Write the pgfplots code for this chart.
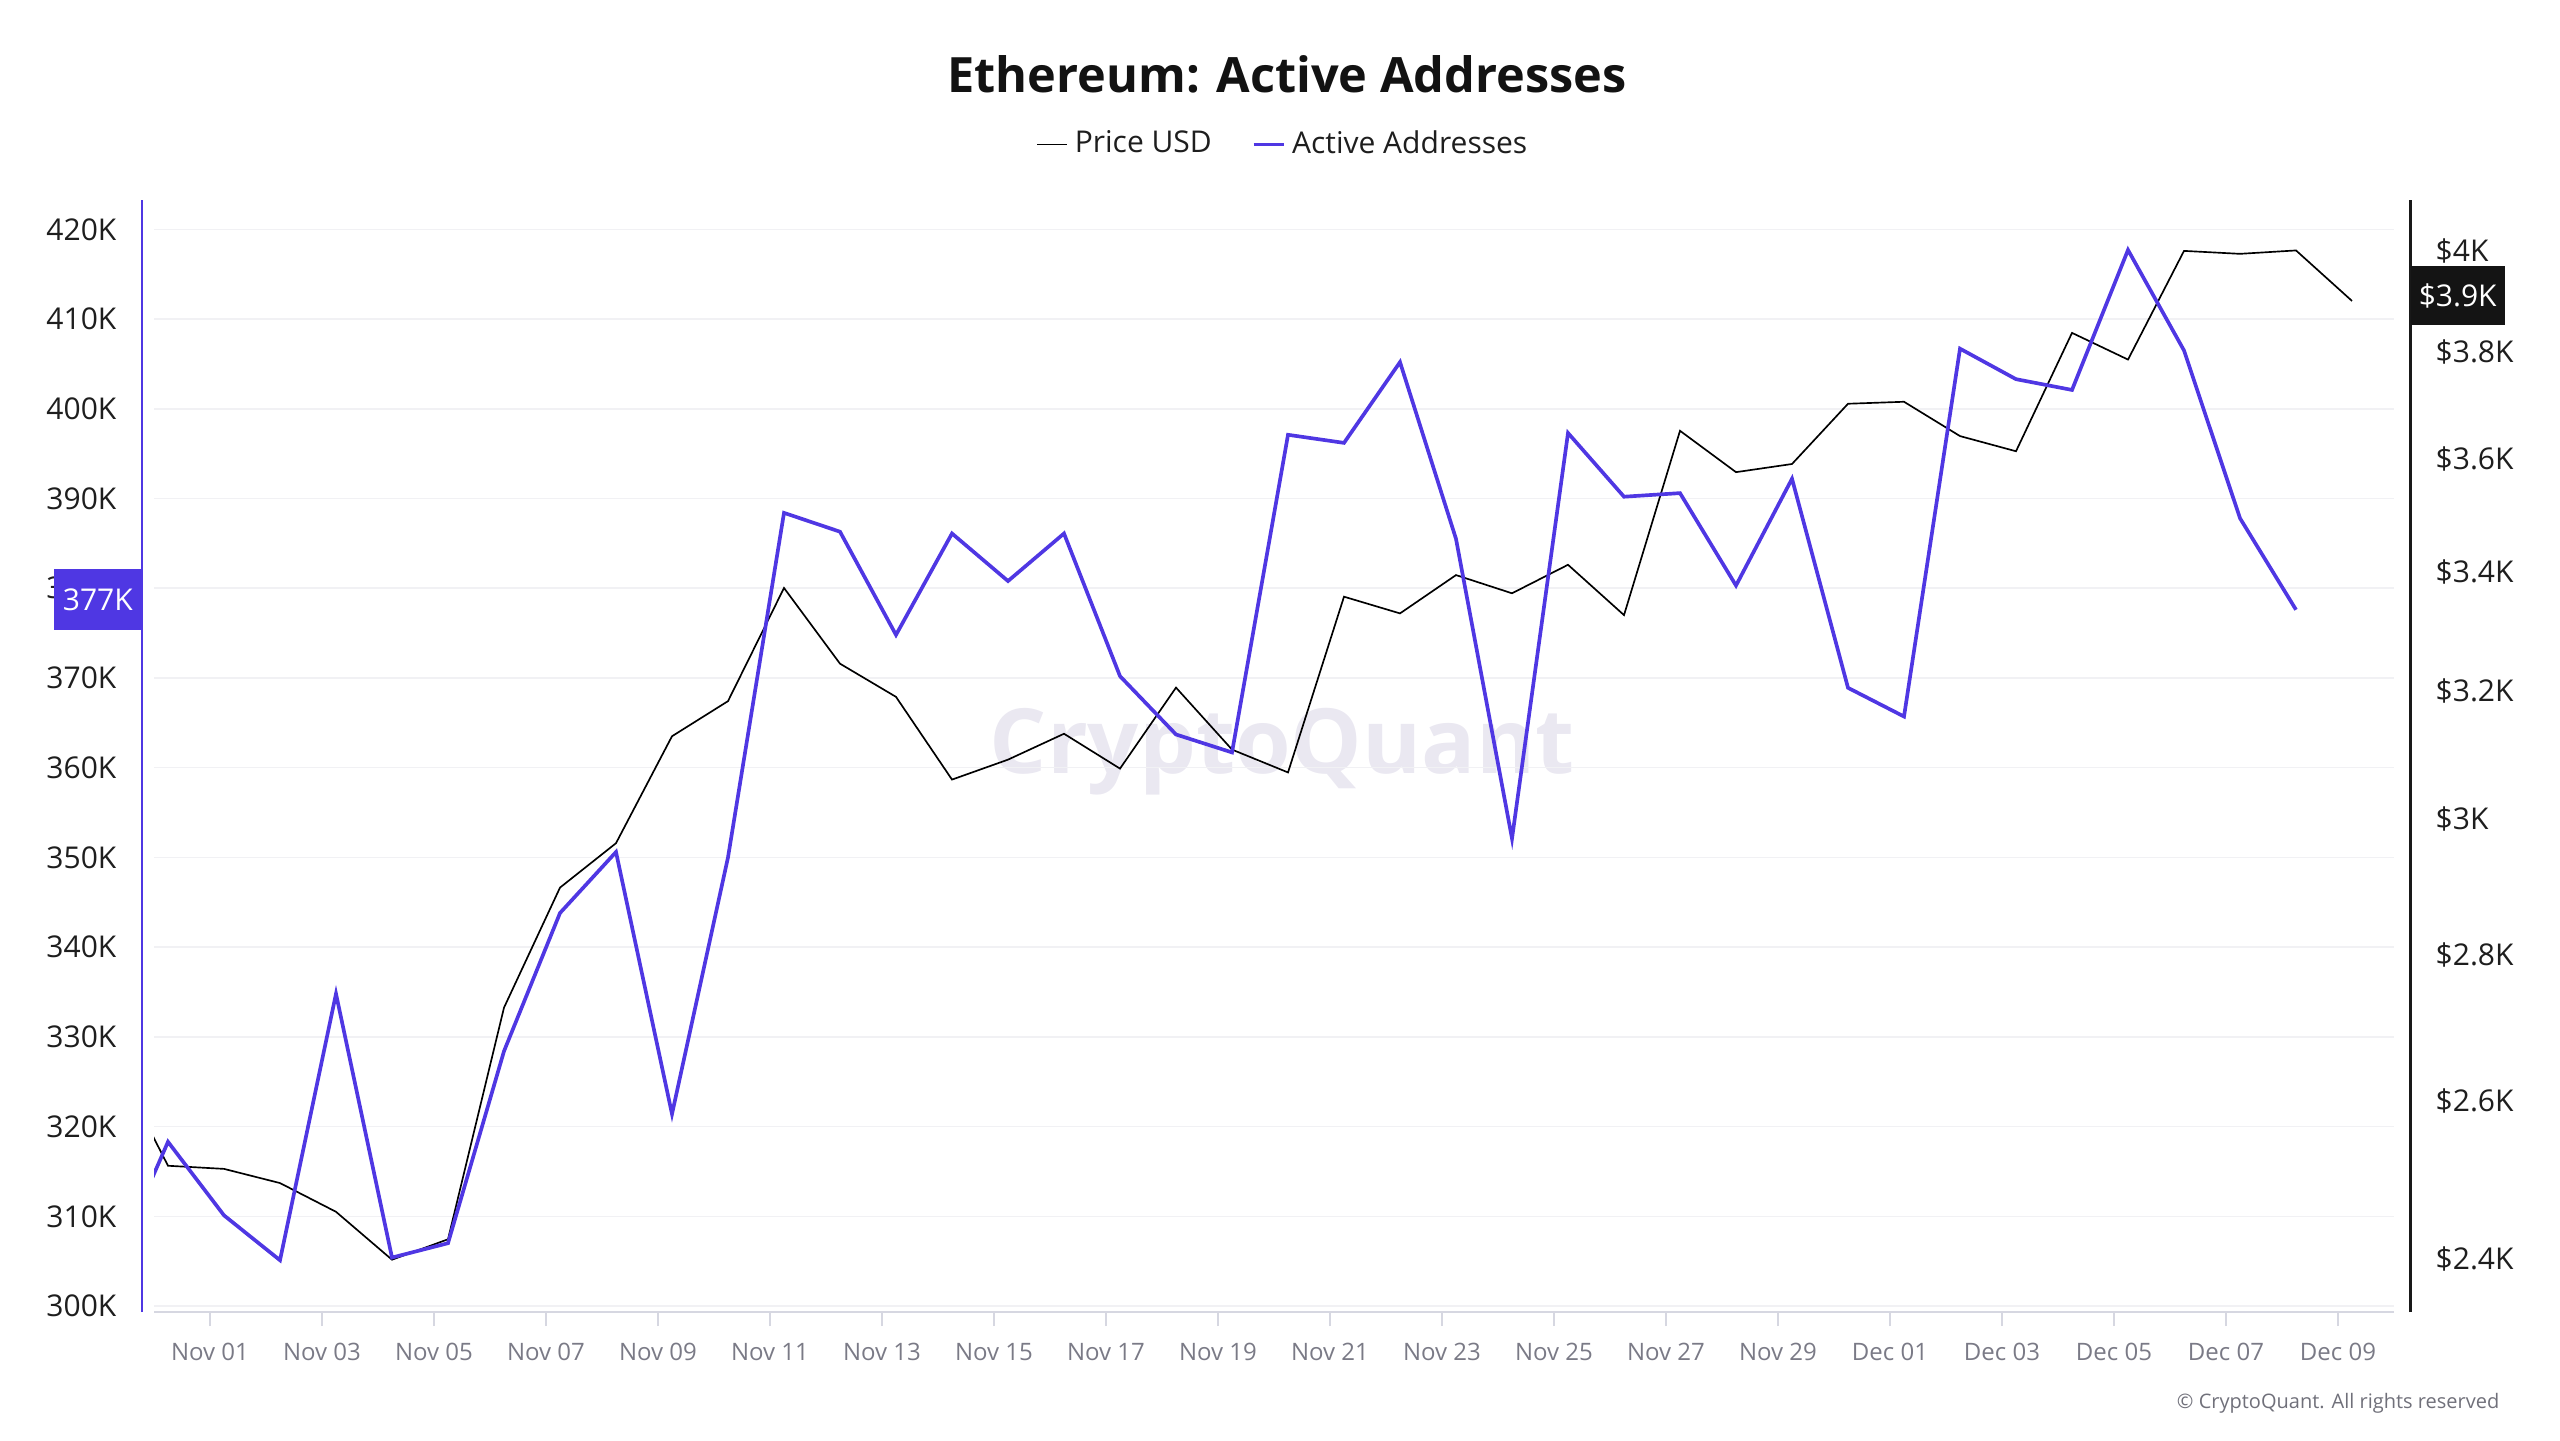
\documentclass[border=0pt]{standalone}
\usepackage{fontspec}
\setmainfont{Open Sans}
\usepackage{pgfplots}
\pgfplotsset{compat=1.18}

\definecolor{aablue}{HTML}{4F37E3}
\definecolor{gridc}{HTML}{F1F1F4}
\definecolor{xaxc}{HTML}{D6D7E1}
\definecolor{xlab}{HTML}{7A7A86}
\definecolor{ylab}{HTML}{1E1E1E}
\definecolor{wmark}{HTML}{EAE8F1}
\definecolor{copyc}{HTML}{70707A}

% 1 px of the 2560x1440 reference = 0.3pt
\pgfplotsset{
  base/.style={
    at={(46.2pt,38.4pt)}, anchor=south west,
    scale only axis, width=672pt, height=333.6pt,
    xmin=0, xmax=40,
    tick align=outside, major tick length=4.2pt,
    /pgf/number format/assume math mode=true,
  },
  ylabs/.style={font=\fontsize{9}{10}\selectfont, text=ylab, inner sep=0pt},
}

\begin{document}
\begin{tikzpicture}
\useasboundingbox (0,0) rectangle (768pt,432pt);

\node[text=wmark, font=\bfseries\fontsize{27}{27}\selectfont] at (384.6pt,206.4pt) {CryptoQuant};

% grid and date axis
\begin{axis}[base,
  ymin=299.33, ymax=423.27,
  ytick={300,310,...,420}, yticklabels={},
  ymajorgrids, grid style={color=gridc, line width=0.45pt},
  axis x line*=bottom, axis y line*=left,
  y axis line style={draw=none}, ytick style={draw=none},
  x axis line style={color=xaxc, line width=0.6pt},
  xtick={1,3,...,39},
  xticklabels={Nov 01,Nov 03,Nov 05,Nov 07,Nov 09,Nov 11,Nov 13,Nov 15,Nov 17,Nov 19,
               Nov 21,Nov 23,Nov 25,Nov 27,Nov 29,Dec 01,Dec 03,Dec 05,Dec 07,Dec 09},
  xtick style={color=xaxc, line width=0.45pt},
  xticklabel style={text=xlab, font=\fontsize{7.2}{8}\selectfont, anchor=base, inner sep=0pt, yshift=-10.2pt},
]
\end{axis}

% price, log scale on the right
\begin{axis}[base,
  ymode=log, ymin=2.3363, ymax=4.1047,
  axis x line=none, axis y line*=right,
  y axis line style={draw=none}, ytick style={draw=none},
  ytick={2.4,2.6,2.8,3,3.2,3.4,3.6,3.8,4},
  yticklabels={\$2.4K,\$2.6K,\$2.8K,\$3K,\$3.2K,\$3.4K,\$3.6K,\$3.8K,\$4K},
  yticklabel style={ylabs, anchor=west, xshift=8.1pt},
]
\addplot[black, line width=0.5pt] coordinates {
  (-0.75,2.66) (0.25,2.516) (1.25,2.512) (2.25,2.494) (3.25,2.458) (4.25,2.399)
  (5.25,2.424) (6.25,2.726) (7.25,2.897) (8.25,2.963) (9.25,3.128) (10.25,3.184)
  (11.25,3.372) (12.25,3.245) (13.25,3.191) (14.25,3.060) (15.25,3.091) (16.25,3.132)
  (17.25,3.077) (18.25,3.206) (19.25,3.107) (20.25,3.071) (21.25,3.357) (22.25,3.329)
  (23.25,3.394) (24.25,3.363) (25.25,3.412) (26.25,3.326) (27.25,3.652) (28.25,3.576)
  (29.25,3.591) (30.25,3.702) (31.25,3.706) (32.25,3.642) (33.25,3.614) (34.25,3.838)
  (35.25,3.786) (36.25,4.000) (37.25,3.995) (38.25,4.001) (39.25,3.900)
};
\coordinate (plast) at (axis cs:40,3.9);
\end{axis}

% active addresses, left
\begin{axis}[base,
  ymin=299.33, ymax=423.27,
  axis x line=none, axis y line*=left,
  y axis line style={draw=none}, ytick style={draw=none},
  ytick={300,310,...,420},
  yticklabels={300K,310K,320K,330K,340K,350K,360K,370K,380K,390K,400K,410K,420K},
  yticklabel style={ylabs, anchor=east, xshift=-6.9pt},
  legend columns=2,
  legend image code/.code={\draw[#1] (0pt,0pt) -- (9pt,0pt);},
  legend style={at={(0.505,1.05)}, anchor=center, draw=none, fill=none,
    font=\fontsize{9}{10}\selectfont, text=ylab,
    /tikz/every even column/.append style={column sep=10pt}},
]
\addlegendimage{black, line width=0.5pt}
\addlegendentry{Price USD}
\addplot[aablue, line width=1.1pt] coordinates {
  (-0.75,304.0) (0.25,318.3) (1.25,310.1) (2.25,305.1) (3.25,334.8) (4.25,305.4)
  (5.25,307.0) (6.25,328.4) (7.25,343.8) (8.25,350.6) (9.25,321.4) (10.25,350.0)
  (11.25,388.4) (12.25,386.3) (13.25,374.8) (14.25,386.1) (15.25,380.8) (16.25,386.1)
  (17.25,370.2) (18.25,363.7) (19.25,361.7) (20.25,397.1) (21.25,396.2) (22.25,405.2)
  (23.25,385.5) (24.25,352.1) (25.25,397.3) (26.25,390.2) (27.25,390.6) (28.25,380.3)
  (29.25,392.2) (30.25,368.9) (31.25,365.7) (32.25,406.7) (33.25,403.3) (34.25,402.1)
  (35.25,417.7) (36.25,406.5) (37.25,387.8) (38.25,377.6)
};
\addlegendentry{Active Addresses}
\coordinate (alast) at (axis cs:0,377.6);
\end{axis}

% offset axis lines
\draw[aablue, line width=0.8pt] (42.6pt,38.4pt) -- (42.6pt,372pt);
\draw[black!90, line width=0.9pt] (723pt,38.4pt) -- (723pt,372pt);

% last-value boxes
\node[fill=aablue, text=white, inner sep=0pt, minimum width=26.1pt, minimum height=18.3pt,
      anchor=east, font=\fontsize{9}{10}\selectfont] at ([xshift=-3.6pt,yshift=3pt]alast) {377K};
\node[fill=black!92, text=white, inner sep=0pt, minimum width=28.2pt, minimum height=17.7pt,
      anchor=west, font=\fontsize{9}{10}\selectfont] at ([xshift=4.8pt,yshift=1.5pt]plast) {\$3.9K};

\node[font=\bfseries\fontsize{14.6}{18}\selectfont, text=black!93] at (386.1pt,409.8pt) {Ethereum: Active Addresses};
\node[anchor=east, font=\fontsize{6}{7}\selectfont, text=copyc] at (753.3pt,11.1pt) {© CryptoQuant. All rights reserved};
\end{tikzpicture}
\end{document}
